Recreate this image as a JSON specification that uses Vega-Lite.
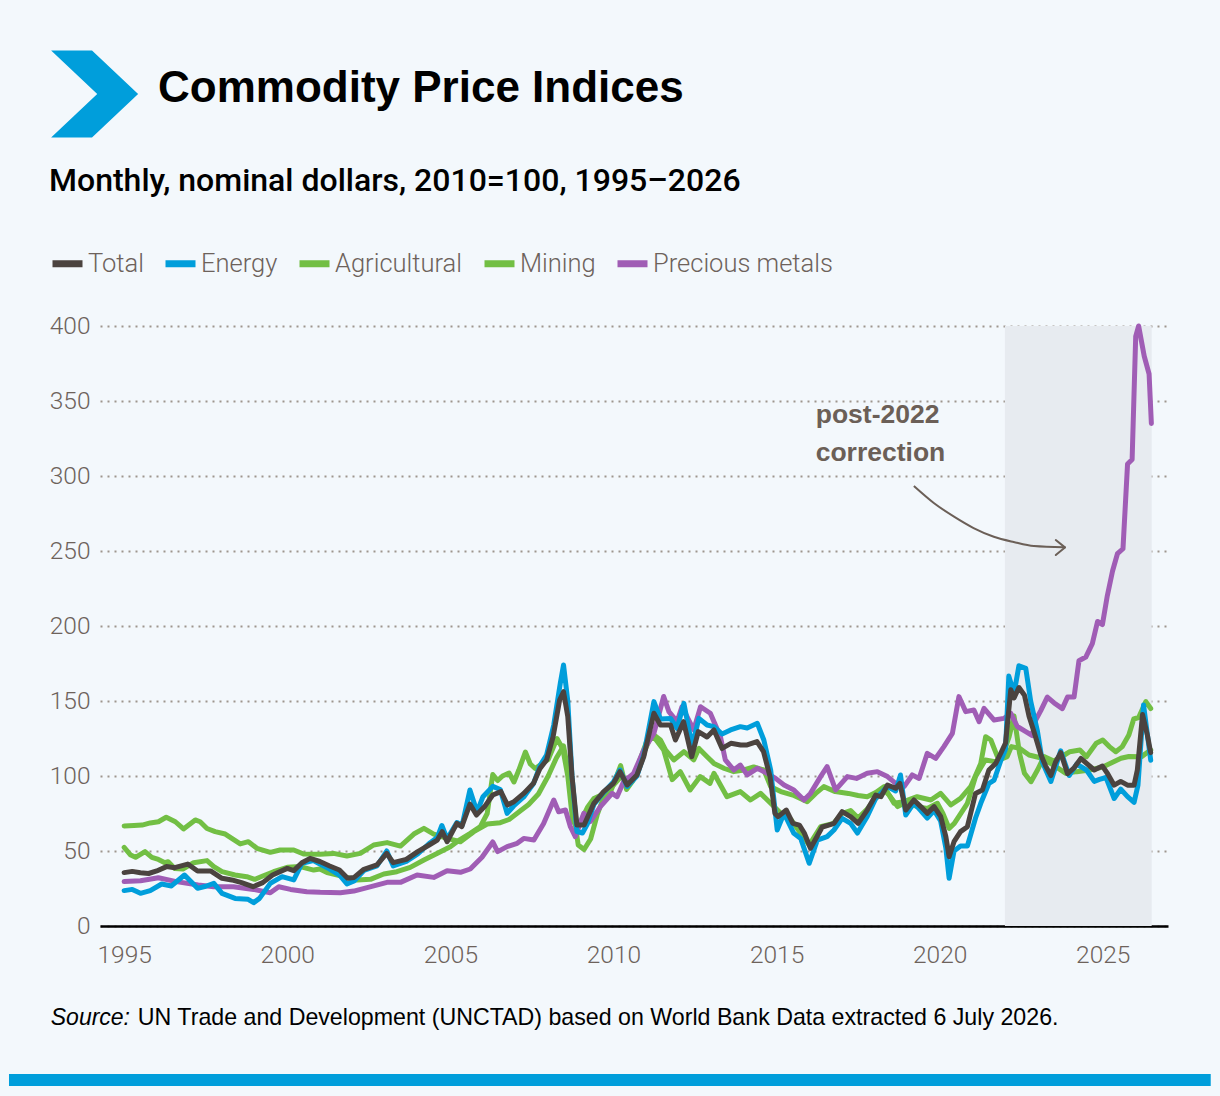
{
  "$schema": "https://vega.github.io/schema/vega-lite/v6.json",
  "width": 1068,
  "height": 600,
  "autosize": {"type": "none"},
  "padding": {"left": 100, "top": 326, "right": 52, "bottom": 170},
  "background": "#f3f8fc",
  "title": {
    "text": "Commodity Price Indices",
    "anchor": "start",
    "frame": "group",
    "dx": 58,
    "offset": -96,
    "baseline": "alphabetic",
    "font": "Liberation Sans, Arial, sans-serif",
    "fontSize": 44,
    "fontWeight": "bold",
    "color": "#000000"
  },
  "config": {
    "view": {"stroke": null},
    "axis": {
      "labelFont": "Roboto, sans-serif",
      "labelFontWeight": 300,
      "labelFontSize": 24.5,
      "labelColor": "#6d625b",
      "ticks": false,
      "title": null
    },
    "axisX": {
      "grid": false,
      "domain": true,
      "domainColor": "#000000",
      "domainWidth": 2.5,
      "labelPadding": 17
    },
    "axisY": {
      "grid": true,
      "gridColor": "#9e958d",
      "gridWidth": 2,
      "gridDash": [2, 5],
      "domain": false,
      "labelPadding": 10
    },
    "legend": {
      "orient": "none",
      "legendX": -51,
      "legendY": -160,
      "direction": "horizontal",
      "columns": 5,
      "columnPadding": 7,
      "labelOffset": 2,
      "labelFont": "Roboto, sans-serif",
      "labelFontWeight": 300,
      "labelFontSize": 25.5,
      "labelColor": "#6d625b",
      "labelLimit": 400,
      "symbolType": "stroke",
      "symbolStrokeWidth": 7,
      "symbolSize": 900,
      "titleFont": "Roboto, sans-serif",
      "titleFontSize": 32,
      "titleFontWeight": 500,
      "titleColor": "#000000",
      "titleLimit": 1000,
      "titlePadding": 47
    }
  },
  "layer": [
    {
      "data": {"values": [{}]},
      "mark": {"type": "rect", "color": "#e7ebf0"},
      "encoding": {
        "x": {"datum": 2022.0, "type": "quantitative", "scale": {"domain": [1994.26, 2027], "nice": false, "zero": false}},
        "x2": {"datum": 2026.5},
        "y": {"datum": 0, "type": "quantitative", "scale": {"domain": [0, 400], "nice": false}},
        "y2": {"datum": 400}
      }
    },
    {
      "data": {
        "values": [
          {"series": "Agricultural", "year": 1995.0, "value": 66.7},
          {"series": "Agricultural", "year": 1995.3, "value": 67},
          {"series": "Agricultural", "year": 1995.55, "value": 67.3},
          {"series": "Agricultural", "year": 1995.8, "value": 68.7},
          {"series": "Agricultural", "year": 1996.05, "value": 69.5},
          {"series": "Agricultural", "year": 1996.29, "value": 72.5},
          {"series": "Agricultural", "year": 1996.57, "value": 69.5},
          {"series": "Agricultural", "year": 1996.82, "value": 64.7},
          {"series": "Agricultural", "year": 1997.18, "value": 70.7},
          {"series": "Agricultural", "year": 1997.33, "value": 69.5},
          {"series": "Agricultural", "year": 1997.54, "value": 65},
          {"series": "Agricultural", "year": 1997.79, "value": 62.9},
          {"series": "Agricultural", "year": 1998.1, "value": 61.3},
          {"series": "Agricultural", "year": 1998.3, "value": 58.4},
          {"series": "Agricultural", "year": 1998.56, "value": 54.7},
          {"series": "Agricultural", "year": 1998.81, "value": 56.2},
          {"series": "Agricultural", "year": 1999.07, "value": 51.8},
          {"series": "Agricultural", "year": 1999.48, "value": 49.1},
          {"series": "Agricultural", "year": 1999.78, "value": 50.7},
          {"series": "Agricultural", "year": 2000.2, "value": 50.7},
          {"series": "Agricultural", "year": 2000.5, "value": 48},
          {"series": "Agricultural", "year": 2001.0, "value": 47.8},
          {"series": "Agricultural", "year": 2001.42, "value": 48.4},
          {"series": "Agricultural", "year": 2001.83, "value": 46.7},
          {"series": "Agricultural", "year": 2002.24, "value": 48.4},
          {"series": "Agricultural", "year": 2002.65, "value": 54},
          {"series": "Agricultural", "year": 2003.06, "value": 55.6},
          {"series": "Agricultural", "year": 2003.47, "value": 53.3},
          {"series": "Agricultural", "year": 2003.88, "value": 61.3},
          {"series": "Agricultural", "year": 2004.19, "value": 65.1},
          {"series": "Agricultural", "year": 2004.49, "value": 61.3},
          {"series": "Agricultural", "year": 2004.9, "value": 58.4},
          {"series": "Agricultural", "year": 2005.31, "value": 56.2},
          {"series": "Agricultural", "year": 2005.72, "value": 62.9},
          {"series": "Agricultural", "year": 2006.13, "value": 68},
          {"series": "Agricultural", "year": 2006.53, "value": 68.9},
          {"series": "Agricultural", "year": 2006.8, "value": 71},
          {"series": "Agricultural", "year": 2007.1, "value": 76},
          {"series": "Agricultural", "year": 2007.4, "value": 81},
          {"series": "Agricultural", "year": 2007.7, "value": 88},
          {"series": "Agricultural", "year": 2008.0, "value": 100},
          {"series": "Agricultural", "year": 2008.25, "value": 112},
          {"series": "Agricultural", "year": 2008.47, "value": 120},
          {"series": "Agricultural", "year": 2008.6, "value": 105},
          {"series": "Agricultural", "year": 2008.75, "value": 80},
          {"series": "Agricultural", "year": 2008.92, "value": 54},
          {"series": "Agricultural", "year": 2009.1, "value": 51},
          {"series": "Agricultural", "year": 2009.3, "value": 58},
          {"series": "Agricultural", "year": 2009.5, "value": 74},
          {"series": "Agricultural", "year": 2009.7, "value": 86},
          {"series": "Agricultural", "year": 2009.9, "value": 89},
          {"series": "Agricultural", "year": 2010.1, "value": 100},
          {"series": "Agricultural", "year": 2010.22, "value": 107},
          {"series": "Agricultural", "year": 2010.4, "value": 91},
          {"series": "Agricultural", "year": 2010.6, "value": 97},
          {"series": "Agricultural", "year": 2010.8, "value": 110},
          {"series": "Agricultural", "year": 2011.0, "value": 122},
          {"series": "Agricultural", "year": 2011.2, "value": 128},
          {"series": "Agricultural", "year": 2011.44, "value": 124},
          {"series": "Agricultural", "year": 2011.6, "value": 117.3},
          {"series": "Agricultural", "year": 2011.85, "value": 110.7},
          {"series": "Agricultural", "year": 2012.16, "value": 116.2},
          {"series": "Agricultural", "year": 2012.46, "value": 110.7},
          {"series": "Agricultural", "year": 2012.62, "value": 118.4},
          {"series": "Agricultural", "year": 2012.87, "value": 112.9},
          {"series": "Agricultural", "year": 2013.08, "value": 108.4},
          {"series": "Agricultural", "year": 2013.4, "value": 105},
          {"series": "Agricultural", "year": 2013.69, "value": 102.9},
          {"series": "Agricultural", "year": 2014.0, "value": 104},
          {"series": "Agricultural", "year": 2014.3, "value": 106},
          {"series": "Agricultural", "year": 2014.61, "value": 104},
          {"series": "Agricultural", "year": 2014.82, "value": 92.9},
          {"series": "Agricultural", "year": 2015.13, "value": 89.6},
          {"series": "Agricultural", "year": 2015.5, "value": 87.3},
          {"series": "Agricultural", "year": 2015.94, "value": 82.9},
          {"series": "Agricultural", "year": 2016.2, "value": 88.4},
          {"series": "Agricultural", "year": 2016.45, "value": 92.9},
          {"series": "Agricultural", "year": 2016.8, "value": 89.6},
          {"series": "Agricultural", "year": 2017.2, "value": 88.4},
          {"series": "Agricultural", "year": 2017.5, "value": 87},
          {"series": "Agricultural", "year": 2017.78, "value": 86.2},
          {"series": "Agricultural", "year": 2018.04, "value": 89},
          {"series": "Agricultural", "year": 2018.3, "value": 92.9},
          {"series": "Agricultural", "year": 2018.6, "value": 81.8},
          {"series": "Agricultural", "year": 2018.9, "value": 82.9},
          {"series": "Agricultural", "year": 2019.31, "value": 86.2},
          {"series": "Agricultural", "year": 2019.73, "value": 84},
          {"series": "Agricultural", "year": 2020.03, "value": 88.4},
          {"series": "Agricultural", "year": 2020.34, "value": 80.7},
          {"series": "Agricultural", "year": 2020.64, "value": 85.1},
          {"series": "Agricultural", "year": 2020.95, "value": 92.9},
          {"series": "Agricultural", "year": 2021.26, "value": 108.4},
          {"series": "Agricultural", "year": 2021.41, "value": 126.2},
          {"series": "Agricultural", "year": 2021.57, "value": 124},
          {"series": "Agricultural", "year": 2021.77, "value": 112.9},
          {"series": "Agricultural", "year": 2021.97, "value": 116.2},
          {"series": "Agricultural", "year": 2022.13, "value": 126.2},
          {"series": "Agricultural", "year": 2022.28, "value": 140},
          {"series": "Agricultural", "year": 2022.45, "value": 115},
          {"series": "Agricultural", "year": 2022.6, "value": 101.8},
          {"series": "Agricultural", "year": 2022.8, "value": 96.2},
          {"series": "Agricultural", "year": 2023.0, "value": 104},
          {"series": "Agricultural", "year": 2023.2, "value": 112.9},
          {"series": "Agricultural", "year": 2023.5, "value": 110},
          {"series": "Agricultural", "year": 2023.75, "value": 113},
          {"series": "Agricultural", "year": 2023.99, "value": 116.2},
          {"series": "Agricultural", "year": 2024.3, "value": 117.3},
          {"series": "Agricultural", "year": 2024.5, "value": 112.9},
          {"series": "Agricultural", "year": 2024.8, "value": 121.8},
          {"series": "Agricultural", "year": 2025.0, "value": 124},
          {"series": "Agricultural", "year": 2025.2, "value": 119.6},
          {"series": "Agricultural", "year": 2025.4, "value": 116.2},
          {"series": "Agricultural", "year": 2025.6, "value": 119.6},
          {"series": "Agricultural", "year": 2025.8, "value": 127.3},
          {"series": "Agricultural", "year": 2025.95, "value": 138},
          {"series": "Agricultural", "year": 2026.1, "value": 139},
          {"series": "Agricultural", "year": 2026.32, "value": 149.6},
          {"series": "Agricultural", "year": 2026.47, "value": 145},

          {"series": "Mining", "year": 1995.0, "value": 52.4},
          {"series": "Mining", "year": 1995.2, "value": 47.3},
          {"series": "Mining", "year": 1995.35, "value": 45.8},
          {"series": "Mining", "year": 1995.64, "value": 49.6},
          {"series": "Mining", "year": 1995.85, "value": 45.8},
          {"series": "Mining", "year": 1996.05, "value": 44.4},
          {"series": "Mining", "year": 1996.25, "value": 42.2},
          {"series": "Mining", "year": 1996.35, "value": 42.9},
          {"series": "Mining", "year": 1996.55, "value": 38.4},
          {"series": "Mining", "year": 1996.8, "value": 38},
          {"series": "Mining", "year": 1997.13, "value": 42.2},
          {"series": "Mining", "year": 1997.54, "value": 43.6},
          {"series": "Mining", "year": 1997.75, "value": 39.6},
          {"series": "Mining", "year": 1998.0, "value": 36.2},
          {"series": "Mining", "year": 1998.4, "value": 34},
          {"series": "Mining", "year": 1998.76, "value": 32.9},
          {"series": "Mining", "year": 1999.0, "value": 31.1},
          {"series": "Mining", "year": 1999.25, "value": 33.3},
          {"series": "Mining", "year": 1999.58, "value": 36.2},
          {"series": "Mining", "year": 2000.0, "value": 39.1},
          {"series": "Mining", "year": 2000.4, "value": 39.6},
          {"series": "Mining", "year": 2000.81, "value": 37.3},
          {"series": "Mining", "year": 2001.0, "value": 38},
          {"series": "Mining", "year": 2001.22, "value": 35.6},
          {"series": "Mining", "year": 2001.73, "value": 32.9},
          {"series": "Mining", "year": 2002.14, "value": 30.7},
          {"series": "Mining", "year": 2002.55, "value": 31.1},
          {"series": "Mining", "year": 2002.96, "value": 34.7},
          {"series": "Mining", "year": 2003.36, "value": 36.2},
          {"series": "Mining", "year": 2003.77, "value": 39.1},
          {"series": "Mining", "year": 2004.19, "value": 44},
          {"series": "Mining", "year": 2004.59, "value": 48.4},
          {"series": "Mining", "year": 2005.0, "value": 52.9},
          {"series": "Mining", "year": 2005.31, "value": 57.8},
          {"series": "Mining", "year": 2005.61, "value": 61.8},
          {"series": "Mining", "year": 2005.92, "value": 66.2},
          {"series": "Mining", "year": 2006.13, "value": 75},
          {"series": "Mining", "year": 2006.3, "value": 101},
          {"series": "Mining", "year": 2006.45, "value": 97},
          {"series": "Mining", "year": 2006.6, "value": 100},
          {"series": "Mining", "year": 2006.8, "value": 102},
          {"series": "Mining", "year": 2006.95, "value": 96},
          {"series": "Mining", "year": 2007.1, "value": 104},
          {"series": "Mining", "year": 2007.3, "value": 116},
          {"series": "Mining", "year": 2007.45, "value": 108},
          {"series": "Mining", "year": 2007.6, "value": 105},
          {"series": "Mining", "year": 2007.8, "value": 108},
          {"series": "Mining", "year": 2008.0, "value": 111},
          {"series": "Mining", "year": 2008.27, "value": 125},
          {"series": "Mining", "year": 2008.45, "value": 118},
          {"series": "Mining", "year": 2008.6, "value": 100},
          {"series": "Mining", "year": 2008.75, "value": 70},
          {"series": "Mining", "year": 2008.9, "value": 66},
          {"series": "Mining", "year": 2009.05, "value": 72},
          {"series": "Mining", "year": 2009.2, "value": 79},
          {"series": "Mining", "year": 2009.4, "value": 85},
          {"series": "Mining", "year": 2009.6, "value": 87},
          {"series": "Mining", "year": 2009.8, "value": 91},
          {"series": "Mining", "year": 2010.0, "value": 94},
          {"series": "Mining", "year": 2010.25, "value": 100},
          {"series": "Mining", "year": 2010.5, "value": 96},
          {"series": "Mining", "year": 2010.7, "value": 103},
          {"series": "Mining", "year": 2010.9, "value": 114},
          {"series": "Mining", "year": 2011.1, "value": 124},
          {"series": "Mining", "year": 2011.24, "value": 126},
          {"series": "Mining", "year": 2011.54, "value": 117.3},
          {"series": "Mining", "year": 2011.8, "value": 97.6},
          {"series": "Mining", "year": 2012.05, "value": 102.9},
          {"series": "Mining", "year": 2012.35, "value": 90.7},
          {"series": "Mining", "year": 2012.66, "value": 99.6},
          {"series": "Mining", "year": 2012.96, "value": 95.1},
          {"series": "Mining", "year": 2013.08, "value": 101.8},
          {"series": "Mining", "year": 2013.48, "value": 86.2},
          {"series": "Mining", "year": 2013.89, "value": 89.6},
          {"series": "Mining", "year": 2014.2, "value": 84},
          {"series": "Mining", "year": 2014.51, "value": 88.4},
          {"series": "Mining", "year": 2014.82, "value": 81.8},
          {"series": "Mining", "year": 2015.13, "value": 75.1},
          {"series": "Mining", "year": 2015.45, "value": 70.7},
          {"series": "Mining", "year": 2015.74, "value": 61.8},
          {"series": "Mining", "year": 2016.0, "value": 54},
          {"series": "Mining", "year": 2016.35, "value": 66.2},
          {"series": "Mining", "year": 2016.75, "value": 68.4},
          {"series": "Mining", "year": 2017.0, "value": 75},
          {"series": "Mining", "year": 2017.27, "value": 77},
          {"series": "Mining", "year": 2017.5, "value": 72},
          {"series": "Mining", "year": 2017.78, "value": 78},
          {"series": "Mining", "year": 2017.99, "value": 84},
          {"series": "Mining", "year": 2018.3, "value": 90.7},
          {"series": "Mining", "year": 2018.45, "value": 87.3},
          {"series": "Mining", "year": 2018.71, "value": 79.6},
          {"series": "Mining", "year": 2019.0, "value": 82.9},
          {"series": "Mining", "year": 2019.3, "value": 79.6},
          {"series": "Mining", "year": 2019.62, "value": 78.4},
          {"series": "Mining", "year": 2019.93, "value": 81.8},
          {"series": "Mining", "year": 2020.1, "value": 75.1},
          {"series": "Mining", "year": 2020.29, "value": 65.1},
          {"series": "Mining", "year": 2020.45, "value": 68.4},
          {"series": "Mining", "year": 2020.85, "value": 81.8},
          {"series": "Mining", "year": 2021.1, "value": 99.6},
          {"series": "Mining", "year": 2021.4, "value": 110.7},
          {"series": "Mining", "year": 2021.7, "value": 109.6},
          {"series": "Mining", "year": 2022.07, "value": 112.9},
          {"series": "Mining", "year": 2022.2, "value": 119.6},
          {"series": "Mining", "year": 2022.45, "value": 118.4},
          {"series": "Mining", "year": 2022.74, "value": 114},
          {"series": "Mining", "year": 2023.15, "value": 111.8},
          {"series": "Mining", "year": 2023.56, "value": 106.2},
          {"series": "Mining", "year": 2023.87, "value": 101.8},
          {"series": "Mining", "year": 2024.2, "value": 102.9},
          {"series": "Mining", "year": 2024.6, "value": 104},
          {"series": "Mining", "year": 2025.0, "value": 106},
          {"series": "Mining", "year": 2025.35, "value": 109.6},
          {"series": "Mining", "year": 2025.56, "value": 111.8},
          {"series": "Mining", "year": 2025.8, "value": 113},
          {"series": "Mining", "year": 2026.19, "value": 112.9},
          {"series": "Mining", "year": 2026.47, "value": 117.3},

          {"series": "Precious metals", "year": 1995.0, "value": 29.6},
          {"series": "Precious metals", "year": 1995.5, "value": 30.2},
          {"series": "Precious metals", "year": 1996.05, "value": 32.2},
          {"series": "Precious metals", "year": 1996.6, "value": 29.6},
          {"series": "Precious metals", "year": 1997.27, "value": 27.3},
          {"series": "Precious metals", "year": 1997.75, "value": 26.2},
          {"series": "Precious metals", "year": 1998.35, "value": 26.2},
          {"series": "Precious metals", "year": 1998.97, "value": 24.4},
          {"series": "Precious metals", "year": 1999.48, "value": 22.2},
          {"series": "Precious metals", "year": 1999.74, "value": 26.2},
          {"series": "Precious metals", "year": 2000.1, "value": 24.4},
          {"series": "Precious metals", "year": 2000.6, "value": 22.9},
          {"series": "Precious metals", "year": 2001.01, "value": 22.5},
          {"series": "Precious metals", "year": 2001.63, "value": 22.2},
          {"series": "Precious metals", "year": 2002.04, "value": 23.3},
          {"series": "Precious metals", "year": 2002.45, "value": 25.6},
          {"series": "Precious metals", "year": 2003.06, "value": 29.1},
          {"series": "Precious metals", "year": 2003.47, "value": 29.1},
          {"series": "Precious metals", "year": 2003.98, "value": 34},
          {"series": "Precious metals", "year": 2004.49, "value": 32.4},
          {"series": "Precious metals", "year": 2004.9, "value": 36.9},
          {"series": "Precious metals", "year": 2005.31, "value": 35.8},
          {"series": "Precious metals", "year": 2005.61, "value": 38},
          {"series": "Precious metals", "year": 2005.97, "value": 45.8},
          {"series": "Precious metals", "year": 2006.3, "value": 56},
          {"series": "Precious metals", "year": 2006.45, "value": 49.6},
          {"series": "Precious metals", "year": 2006.74, "value": 52.9},
          {"series": "Precious metals", "year": 2007.05, "value": 55.1},
          {"series": "Precious metals", "year": 2007.25, "value": 58.4},
          {"series": "Precious metals", "year": 2007.56, "value": 57.3},
          {"series": "Precious metals", "year": 2007.86, "value": 68.4},
          {"series": "Precious metals", "year": 2008.17, "value": 84},
          {"series": "Precious metals", "year": 2008.32, "value": 76.2},
          {"series": "Precious metals", "year": 2008.53, "value": 77.3},
          {"series": "Precious metals", "year": 2008.68, "value": 66.2},
          {"series": "Precious metals", "year": 2008.83, "value": 59.6},
          {"series": "Precious metals", "year": 2009.09, "value": 75.1},
          {"series": "Precious metals", "year": 2009.29, "value": 69.6},
          {"series": "Precious metals", "year": 2009.6, "value": 79.6},
          {"series": "Precious metals", "year": 2009.96, "value": 88.4},
          {"series": "Precious metals", "year": 2010.11, "value": 86.2},
          {"series": "Precious metals", "year": 2010.31, "value": 96.2},
          {"series": "Precious metals", "year": 2010.62, "value": 101.8},
          {"series": "Precious metals", "year": 2010.93, "value": 117.3},
          {"series": "Precious metals", "year": 2011.24, "value": 128.4},
          {"series": "Precious metals", "year": 2011.54, "value": 153},
          {"series": "Precious metals", "year": 2011.7, "value": 142.9},
          {"series": "Precious metals", "year": 2011.95, "value": 136.2},
          {"series": "Precious metals", "year": 2012.1, "value": 146.2},
          {"series": "Precious metals", "year": 2012.46, "value": 130.7},
          {"series": "Precious metals", "year": 2012.67, "value": 146.2},
          {"series": "Precious metals", "year": 2012.97, "value": 141.8},
          {"series": "Precious metals", "year": 2013.28, "value": 126.2},
          {"series": "Precious metals", "year": 2013.43, "value": 110.7},
          {"series": "Precious metals", "year": 2013.69, "value": 104},
          {"series": "Precious metals", "year": 2013.89, "value": 107.3},
          {"series": "Precious metals", "year": 2014.1, "value": 100.7},
          {"series": "Precious metals", "year": 2014.41, "value": 105.1},
          {"series": "Precious metals", "year": 2014.71, "value": 101.8},
          {"series": "Precious metals", "year": 2014.97, "value": 98.4},
          {"series": "Precious metals", "year": 2015.23, "value": 94},
          {"series": "Precious metals", "year": 2015.53, "value": 90.7},
          {"series": "Precious metals", "year": 2015.84, "value": 84},
          {"series": "Precious metals", "year": 2016.04, "value": 88.4},
          {"series": "Precious metals", "year": 2016.35, "value": 99.6},
          {"series": "Precious metals", "year": 2016.55, "value": 106.2},
          {"series": "Precious metals", "year": 2016.81, "value": 90.7},
          {"series": "Precious metals", "year": 2017.17, "value": 99.6},
          {"series": "Precious metals", "year": 2017.45, "value": 98.4},
          {"series": "Precious metals", "year": 2017.78, "value": 101.8},
          {"series": "Precious metals", "year": 2018.09, "value": 102.9},
          {"series": "Precious metals", "year": 2018.4, "value": 99.6},
          {"series": "Precious metals", "year": 2018.65, "value": 95.1},
          {"series": "Precious metals", "year": 2018.91, "value": 92.9},
          {"series": "Precious metals", "year": 2019.16, "value": 100.7},
          {"series": "Precious metals", "year": 2019.37, "value": 98.4},
          {"series": "Precious metals", "year": 2019.62, "value": 115.1},
          {"series": "Precious metals", "year": 2019.88, "value": 111.8},
          {"series": "Precious metals", "year": 2020.13, "value": 119.6},
          {"series": "Precious metals", "year": 2020.39, "value": 128.4},
          {"series": "Precious metals", "year": 2020.59, "value": 152.9},
          {"series": "Precious metals", "year": 2020.8, "value": 142.9},
          {"series": "Precious metals", "year": 2021.05, "value": 144},
          {"series": "Precious metals", "year": 2021.21, "value": 136.2},
          {"series": "Precious metals", "year": 2021.36, "value": 145.1},
          {"series": "Precious metals", "year": 2021.67, "value": 137.3},
          {"series": "Precious metals", "year": 2021.97, "value": 138.4},
          {"series": "Precious metals", "year": 2022.18, "value": 141.8},
          {"series": "Precious metals", "year": 2022.38, "value": 133},
          {"series": "Precious metals", "year": 2022.64, "value": 129.6},
          {"series": "Precious metals", "year": 2022.84, "value": 127},
          {"series": "Precious metals", "year": 2022.94, "value": 137.2},
          {"series": "Precious metals", "year": 2023.1, "value": 143.6},
          {"series": "Precious metals", "year": 2023.3, "value": 152.6},
          {"series": "Precious metals", "year": 2023.51, "value": 148.7},
          {"series": "Precious metals", "year": 2023.76, "value": 144.9},
          {"series": "Precious metals", "year": 2023.92, "value": 152.6},
          {"series": "Precious metals", "year": 2024.12, "value": 152.6},
          {"series": "Precious metals", "year": 2024.27, "value": 176.8},
          {"series": "Precious metals", "year": 2024.48, "value": 179.3},
          {"series": "Precious metals", "year": 2024.68, "value": 188.3},
          {"series": "Precious metals", "year": 2024.84, "value": 203},
          {"series": "Precious metals", "year": 2024.99, "value": 201},
          {"series": "Precious metals", "year": 2025.14, "value": 220.2},
          {"series": "Precious metals", "year": 2025.3, "value": 236.7},
          {"series": "Precious metals", "year": 2025.45, "value": 248.2},
          {"series": "Precious metals", "year": 2025.62, "value": 251.5},
          {"series": "Precious metals", "year": 2025.76, "value": 308},
          {"series": "Precious metals", "year": 2025.9, "value": 311},
          {"series": "Precious metals", "year": 2026.01, "value": 393},
          {"series": "Precious metals", "year": 2026.1, "value": 400},
          {"series": "Precious metals", "year": 2026.27, "value": 380},
          {"series": "Precious metals", "year": 2026.42, "value": 368},
          {"series": "Precious metals", "year": 2026.49, "value": 335},

          {"series": "Energy", "year": 1995.0, "value": 23.6},
          {"series": "Energy", "year": 1995.25, "value": 24.4},
          {"series": "Energy", "year": 1995.5, "value": 21.8},
          {"series": "Energy", "year": 1995.8, "value": 23.6},
          {"series": "Energy", "year": 1996.15, "value": 28},
          {"series": "Energy", "year": 1996.45, "value": 26.7},
          {"series": "Energy", "year": 1996.85, "value": 34},
          {"series": "Energy", "year": 1997.25, "value": 25.1},
          {"series": "Energy", "year": 1997.5, "value": 26.5},
          {"series": "Energy", "year": 1997.75, "value": 28.4},
          {"series": "Energy", "year": 1998.0, "value": 21.8},
          {"series": "Energy", "year": 1998.4, "value": 18.4},
          {"series": "Energy", "year": 1998.8, "value": 17.8},
          {"series": "Energy", "year": 1998.97, "value": 15.6},
          {"series": "Energy", "year": 1999.15, "value": 18.4},
          {"series": "Energy", "year": 1999.48, "value": 28.4},
          {"series": "Energy", "year": 1999.84, "value": 32.9},
          {"series": "Energy", "year": 2000.2, "value": 30.7},
          {"series": "Energy", "year": 2000.45, "value": 41.8},
          {"series": "Energy", "year": 2000.8, "value": 43.6},
          {"series": "Energy", "year": 2001.0, "value": 41.3},
          {"series": "Energy", "year": 2001.3, "value": 38},
          {"series": "Energy", "year": 2001.6, "value": 34},
          {"series": "Energy", "year": 2001.83, "value": 28},
          {"series": "Energy", "year": 2002.05, "value": 30},
          {"series": "Energy", "year": 2002.35, "value": 37},
          {"series": "Energy", "year": 2002.75, "value": 40},
          {"series": "Energy", "year": 2003.05, "value": 50},
          {"series": "Energy", "year": 2003.25, "value": 40},
          {"series": "Energy", "year": 2003.65, "value": 43},
          {"series": "Energy", "year": 2004.0, "value": 48},
          {"series": "Energy", "year": 2004.35, "value": 55},
          {"series": "Energy", "year": 2004.6, "value": 59},
          {"series": "Energy", "year": 2004.74, "value": 67},
          {"series": "Energy", "year": 2004.9, "value": 58},
          {"series": "Energy", "year": 2005.2, "value": 69},
          {"series": "Energy", "year": 2005.36, "value": 67},
          {"series": "Energy", "year": 2005.6, "value": 90.7},
          {"series": "Energy", "year": 2005.82, "value": 76},
          {"series": "Energy", "year": 2006.0, "value": 86.2},
          {"series": "Energy", "year": 2006.3, "value": 93.1},
          {"series": "Energy", "year": 2006.53, "value": 91},
          {"series": "Energy", "year": 2006.74, "value": 75.1},
          {"series": "Energy", "year": 2006.94, "value": 80},
          {"series": "Energy", "year": 2007.25, "value": 86},
          {"series": "Energy", "year": 2007.55, "value": 95},
          {"series": "Energy", "year": 2007.75, "value": 107},
          {"series": "Energy", "year": 2007.95, "value": 114},
          {"series": "Energy", "year": 2008.17, "value": 134},
          {"series": "Energy", "year": 2008.37, "value": 161.8},
          {"series": "Energy", "year": 2008.47, "value": 174},
          {"series": "Energy", "year": 2008.6, "value": 150},
          {"series": "Energy", "year": 2008.73, "value": 100},
          {"series": "Energy", "year": 2008.88, "value": 63},
          {"series": "Energy", "year": 2009.05, "value": 62},
          {"series": "Energy", "year": 2009.2, "value": 68},
          {"series": "Energy", "year": 2009.4, "value": 81},
          {"series": "Energy", "year": 2009.7, "value": 89},
          {"series": "Energy", "year": 2010.0, "value": 96},
          {"series": "Energy", "year": 2010.2, "value": 104},
          {"series": "Energy", "year": 2010.42, "value": 93},
          {"series": "Energy", "year": 2010.72, "value": 100},
          {"series": "Energy", "year": 2010.93, "value": 114},
          {"series": "Energy", "year": 2011.24, "value": 149.6},
          {"series": "Energy", "year": 2011.44, "value": 138},
          {"series": "Energy", "year": 2011.75, "value": 138.4},
          {"series": "Energy", "year": 2011.95, "value": 131.8},
          {"series": "Energy", "year": 2012.16, "value": 148.4},
          {"series": "Energy", "year": 2012.41, "value": 120},
          {"series": "Energy", "year": 2012.62, "value": 138.4},
          {"series": "Energy", "year": 2012.87, "value": 134},
          {"series": "Energy", "year": 2013.08, "value": 132.9},
          {"series": "Energy", "year": 2013.33, "value": 128},
          {"series": "Energy", "year": 2013.59, "value": 130.7},
          {"series": "Energy", "year": 2013.89, "value": 132.9},
          {"series": "Energy", "year": 2014.1, "value": 132},
          {"series": "Energy", "year": 2014.41, "value": 135.1},
          {"series": "Energy", "year": 2014.61, "value": 124},
          {"series": "Energy", "year": 2014.82, "value": 104},
          {"series": "Energy", "year": 2015.02, "value": 64},
          {"series": "Energy", "year": 2015.23, "value": 75.1},
          {"series": "Energy", "year": 2015.53, "value": 61.8},
          {"series": "Energy", "year": 2015.74, "value": 58.4},
          {"series": "Energy", "year": 2016.0, "value": 41.8},
          {"series": "Energy", "year": 2016.25, "value": 57.3},
          {"series": "Energy", "year": 2016.55, "value": 59.6},
          {"series": "Energy", "year": 2016.76, "value": 64},
          {"series": "Energy", "year": 2017.01, "value": 71.8},
          {"series": "Energy", "year": 2017.27, "value": 68.4},
          {"series": "Energy", "year": 2017.48, "value": 62},
          {"series": "Energy", "year": 2017.78, "value": 73},
          {"series": "Energy", "year": 2018.04, "value": 85},
          {"series": "Energy", "year": 2018.4, "value": 93},
          {"series": "Energy", "year": 2018.65, "value": 90},
          {"series": "Energy", "year": 2018.8, "value": 100.7},
          {"series": "Energy", "year": 2018.96, "value": 74},
          {"series": "Energy", "year": 2019.21, "value": 82},
          {"series": "Energy", "year": 2019.42, "value": 77},
          {"series": "Energy", "year": 2019.62, "value": 72},
          {"series": "Energy", "year": 2019.83, "value": 77},
          {"series": "Energy", "year": 2020.03, "value": 70},
          {"series": "Energy", "year": 2020.19, "value": 52},
          {"series": "Energy", "year": 2020.29, "value": 31.8},
          {"series": "Energy", "year": 2020.44, "value": 50},
          {"series": "Energy", "year": 2020.64, "value": 53.3},
          {"series": "Energy", "year": 2020.85, "value": 53.3},
          {"series": "Energy", "year": 2021.1, "value": 72},
          {"series": "Energy", "year": 2021.26, "value": 81.8},
          {"series": "Energy", "year": 2021.51, "value": 95},
          {"series": "Energy", "year": 2021.67, "value": 97.3},
          {"series": "Energy", "year": 2021.87, "value": 110},
          {"series": "Energy", "year": 2022.02, "value": 118},
          {"series": "Energy", "year": 2022.12, "value": 166.6},
          {"series": "Energy", "year": 2022.28, "value": 155},
          {"series": "Energy", "year": 2022.43, "value": 173.5},
          {"series": "Energy", "year": 2022.64, "value": 171.7},
          {"series": "Energy", "year": 2022.79, "value": 150},
          {"series": "Energy", "year": 2023.0, "value": 129.6},
          {"series": "Energy", "year": 2023.15, "value": 109.2},
          {"series": "Energy", "year": 2023.41, "value": 96.4},
          {"series": "Energy", "year": 2023.71, "value": 116.8},
          {"series": "Energy", "year": 2023.97, "value": 100.3},
          {"series": "Energy", "year": 2024.2, "value": 107.9},
          {"series": "Energy", "year": 2024.5, "value": 104},
          {"series": "Energy", "year": 2024.74, "value": 96.4},
          {"series": "Energy", "year": 2024.9, "value": 97.7},
          {"series": "Energy", "year": 2025.1, "value": 99},
          {"series": "Energy", "year": 2025.35, "value": 85},
          {"series": "Energy", "year": 2025.55, "value": 91.3},
          {"series": "Energy", "year": 2025.76, "value": 86.2},
          {"series": "Energy", "year": 2025.96, "value": 82.4},
          {"series": "Energy", "year": 2026.08, "value": 93.9},
          {"series": "Energy", "year": 2026.25, "value": 147.4},
          {"series": "Energy", "year": 2026.47, "value": 110.5},

          {"series": "Total", "year": 1995.0, "value": 35.6},
          {"series": "Total", "year": 1995.25, "value": 36.4},
          {"series": "Total", "year": 1995.5, "value": 35.5},
          {"series": "Total", "year": 1995.75, "value": 35},
          {"series": "Total", "year": 1996.0, "value": 36.7},
          {"series": "Total", "year": 1996.3, "value": 39.6},
          {"series": "Total", "year": 1996.55, "value": 38.9},
          {"series": "Total", "year": 1996.95, "value": 41.3},
          {"series": "Total", "year": 1997.25, "value": 36.7},
          {"series": "Total", "year": 1997.65, "value": 36.7},
          {"series": "Total", "year": 1998.0, "value": 31.8},
          {"series": "Total", "year": 1998.3, "value": 30.7},
          {"series": "Total", "year": 1998.6, "value": 28.9},
          {"series": "Total", "year": 1998.95, "value": 26.2},
          {"series": "Total", "year": 1999.25, "value": 28.9},
          {"series": "Total", "year": 1999.55, "value": 34},
          {"series": "Total", "year": 2000.0, "value": 38.4},
          {"series": "Total", "year": 2000.2, "value": 36.9},
          {"series": "Total", "year": 2000.45, "value": 42.2},
          {"series": "Total", "year": 2000.7, "value": 45.1},
          {"series": "Total", "year": 2001.0, "value": 43},
          {"series": "Total", "year": 2001.3, "value": 40},
          {"series": "Total", "year": 2001.6, "value": 37.3},
          {"series": "Total", "year": 2001.85, "value": 31.8},
          {"series": "Total", "year": 2002.05, "value": 32.4},
          {"series": "Total", "year": 2002.35, "value": 37.8},
          {"series": "Total", "year": 2002.75, "value": 40.7},
          {"series": "Total", "year": 2003.05, "value": 48.4},
          {"series": "Total", "year": 2003.25, "value": 42.2},
          {"series": "Total", "year": 2003.65, "value": 44.4},
          {"series": "Total", "year": 2004.0, "value": 49.6},
          {"series": "Total", "year": 2004.35, "value": 54},
          {"series": "Total", "year": 2004.6, "value": 57.3},
          {"series": "Total", "year": 2004.75, "value": 62.9},
          {"series": "Total", "year": 2004.9, "value": 56.2},
          {"series": "Total", "year": 2005.2, "value": 68.4},
          {"series": "Total", "year": 2005.35, "value": 66.2},
          {"series": "Total", "year": 2005.6, "value": 81.3},
          {"series": "Total", "year": 2005.8, "value": 74},
          {"series": "Total", "year": 2006.05, "value": 79.6},
          {"series": "Total", "year": 2006.3, "value": 87.3},
          {"series": "Total", "year": 2006.55, "value": 89.6},
          {"series": "Total", "year": 2006.75, "value": 80.7},
          {"series": "Total", "year": 2006.95, "value": 82.9},
          {"series": "Total", "year": 2007.25, "value": 88.4},
          {"series": "Total", "year": 2007.55, "value": 95.1},
          {"series": "Total", "year": 2007.75, "value": 105.1},
          {"series": "Total", "year": 2007.95, "value": 110.7},
          {"series": "Total", "year": 2008.15, "value": 126.2},
          {"series": "Total", "year": 2008.35, "value": 150.7},
          {"series": "Total", "year": 2008.47, "value": 156.2},
          {"series": "Total", "year": 2008.6, "value": 139.6},
          {"series": "Total", "year": 2008.73, "value": 99.6},
          {"series": "Total", "year": 2008.88, "value": 67.3},
          {"series": "Total", "year": 2009.1, "value": 67.3},
          {"series": "Total", "year": 2009.4, "value": 81.8},
          {"series": "Total", "year": 2009.7, "value": 89.6},
          {"series": "Total", "year": 2010.0, "value": 95.1},
          {"series": "Total", "year": 2010.2, "value": 102.9},
          {"series": "Total", "year": 2010.42, "value": 94},
          {"series": "Total", "year": 2010.72, "value": 100.7},
          {"series": "Total", "year": 2010.93, "value": 112.9},
          {"series": "Total", "year": 2011.24, "value": 141.8},
          {"series": "Total", "year": 2011.44, "value": 134},
          {"series": "Total", "year": 2011.75, "value": 134},
          {"series": "Total", "year": 2011.9, "value": 124},
          {"series": "Total", "year": 2012.15, "value": 136.2},
          {"series": "Total", "year": 2012.4, "value": 112.9},
          {"series": "Total", "year": 2012.6, "value": 129.6},
          {"series": "Total", "year": 2012.87, "value": 126},
          {"series": "Total", "year": 2013.08, "value": 130.7},
          {"series": "Total", "year": 2013.33, "value": 118.4},
          {"series": "Total", "year": 2013.6, "value": 121.8},
          {"series": "Total", "year": 2013.9, "value": 120.7},
          {"series": "Total", "year": 2014.1, "value": 120.7},
          {"series": "Total", "year": 2014.4, "value": 122.9},
          {"series": "Total", "year": 2014.6, "value": 116.2},
          {"series": "Total", "year": 2014.8, "value": 99.6},
          {"series": "Total", "year": 2014.95, "value": 75},
          {"series": "Total", "year": 2015.05, "value": 72.9},
          {"series": "Total", "year": 2015.3, "value": 77.3},
          {"series": "Total", "year": 2015.5, "value": 68.4},
          {"series": "Total", "year": 2015.7, "value": 67.3},
          {"series": "Total", "year": 2015.85, "value": 62},
          {"series": "Total", "year": 2016.04, "value": 51.8},
          {"series": "Total", "year": 2016.25, "value": 60},
          {"series": "Total", "year": 2016.4, "value": 66},
          {"series": "Total", "year": 2016.6, "value": 67.3},
          {"series": "Total", "year": 2016.76, "value": 68.4},
          {"series": "Total", "year": 2017.01, "value": 76.2},
          {"series": "Total", "year": 2017.27, "value": 72.9},
          {"series": "Total", "year": 2017.5, "value": 68.4},
          {"series": "Total", "year": 2017.78, "value": 77.3},
          {"series": "Total", "year": 2018.04, "value": 87.3},
          {"series": "Total", "year": 2018.2, "value": 86.2},
          {"series": "Total", "year": 2018.4, "value": 94},
          {"series": "Total", "year": 2018.65, "value": 91.8},
          {"series": "Total", "year": 2018.78, "value": 95.1},
          {"series": "Total", "year": 2018.96, "value": 77.3},
          {"series": "Total", "year": 2019.21, "value": 84},
          {"series": "Total", "year": 2019.42, "value": 79.6},
          {"series": "Total", "year": 2019.62, "value": 75.1},
          {"series": "Total", "year": 2019.83, "value": 79.6},
          {"series": "Total", "year": 2020.03, "value": 73.1},
          {"series": "Total", "year": 2020.19, "value": 59.6},
          {"series": "Total", "year": 2020.29, "value": 46.2},
          {"series": "Total", "year": 2020.44, "value": 56.2},
          {"series": "Total", "year": 2020.64, "value": 62.9},
          {"series": "Total", "year": 2020.85, "value": 66.2},
          {"series": "Total", "year": 2021.1, "value": 88.4},
          {"series": "Total", "year": 2021.31, "value": 90.7},
          {"series": "Total", "year": 2021.51, "value": 104},
          {"series": "Total", "year": 2021.72, "value": 108.4},
          {"series": "Total", "year": 2021.87, "value": 115},
          {"series": "Total", "year": 2022.02, "value": 122},
          {"series": "Total", "year": 2022.18, "value": 157.5},
          {"series": "Total", "year": 2022.28, "value": 152},
          {"series": "Total", "year": 2022.43, "value": 159},
          {"series": "Total", "year": 2022.6, "value": 153.8},
          {"series": "Total", "year": 2022.74, "value": 139.8},
          {"series": "Total", "year": 2022.89, "value": 129.6},
          {"series": "Total", "year": 2023.1, "value": 114.3},
          {"series": "Total", "year": 2023.25, "value": 106.6},
          {"series": "Total", "year": 2023.41, "value": 100.3},
          {"series": "Total", "year": 2023.55, "value": 109.2},
          {"series": "Total", "year": 2023.71, "value": 115.6},
          {"series": "Total", "year": 2023.92, "value": 101.5},
          {"series": "Total", "year": 2024.12, "value": 105.4},
          {"series": "Total", "year": 2024.33, "value": 111.7},
          {"series": "Total", "year": 2024.53, "value": 107.9},
          {"series": "Total", "year": 2024.74, "value": 104},
          {"series": "Total", "year": 2024.99, "value": 106.6},
          {"series": "Total", "year": 2025.15, "value": 101.5},
          {"series": "Total", "year": 2025.35, "value": 93.9},
          {"series": "Total", "year": 2025.55, "value": 96.4},
          {"series": "Total", "year": 2025.76, "value": 93.9},
          {"series": "Total", "year": 2025.96, "value": 93.9},
          {"series": "Total", "year": 2026.06, "value": 104},
          {"series": "Total", "year": 2026.22, "value": 141},
          {"series": "Total", "year": 2026.37, "value": 127},
          {"series": "Total", "year": 2026.47, "value": 115.6}
        ]
      },
      "mark": {"type": "line", "strokeWidth": 5, "strokeJoin": "round", "strokeCap": "round"},
      "encoding": {
        "x": {
          "field": "year",
          "type": "quantitative",
          "scale": {"domain": [1994.26, 2027], "nice": false, "zero": false},
          "axis": {"title": null, "values": [1995, 2000, 2005, 2010, 2015, 2020, 2025], "format": "d"}
        },
        "y": {
          "field": "value",
          "type": "quantitative",
          "scale": {"domain": [0, 400], "nice": false},
          "axis": {"title": null, "values": [0, 50, 100, 150, 200, 250, 300, 350, 400]}
        },
        "color": {
          "field": "series",
          "type": "nominal",
          "scale": {
            "domain": ["Total", "Energy", "Agricultural", "Mining", "Precious metals"],
            "range": ["#4b433f", "#009edb", "#72bf44", "#72bf44", "#a05db5"]
          },
          "legend": {"title": "Monthly, nominal dollars, 2010=100, 1995\u20132026"}
        }
      }
    },
    {
      "data": {
        "values": [
          {"year": 2019.21, "value": 293.3},
          {"year": 2019.82, "value": 282},
          {"year": 2020.44, "value": 272.9},
          {"year": 2021.04, "value": 265.3},
          {"year": 2021.66, "value": 259.5},
          {"year": 2022.27, "value": 256},
          {"year": 2022.89, "value": 253.3},
          {"year": 2023.81, "value": 252.5}
        ]
      },
      "mark": {"type": "line", "color": "#6b5f57", "strokeWidth": 2, "interpolate": "monotone"},
      "encoding": {
        "x": {"field": "year", "type": "quantitative", "scale": {"domain": [1994.26, 2027], "nice": false, "zero": false}, "axis": {"title": null}},
        "y": {"field": "value", "type": "quantitative", "scale": {"domain": [0, 400], "nice": false}, "axis": {"title": null}}
      }
    },
    {
      "data": {
        "values": [
          {"year": 2023.56, "value": 257.3, "tipYear": 2023.84, "tipValue": 252.4},
          {"year": 2023.56, "value": 247.3, "tipYear": 2023.84, "tipValue": 252.4}
        ]
      },
      "mark": {"type": "rule", "color": "#6b5f57", "strokeWidth": 2, "strokeCap": "round"},
      "encoding": {
        "x": {"field": "year", "type": "quantitative", "scale": {"domain": [1994.26, 2027], "nice": false, "zero": false}, "axis": {"title": null}},
        "y": {"field": "value", "type": "quantitative", "scale": {"domain": [0, 400], "nice": false}, "axis": {"title": null}},
        "x2": {"field": "tipYear"},
        "y2": {"field": "tipValue"}
      }
    },
    {
      "data": {"values": [{}]},
      "mark": {
        "type": "text",
        "text": "post-2022\ncorrection",
        "lineBreak": "\n",
        "lineHeight": 38,
        "align": "left",
        "baseline": "alphabetic",
        "font": "Liberation Sans, Arial, sans-serif",
        "fontSize": 26.5,
        "fontWeight": "bold",
        "color": "#6b5f57"
      },
      "encoding": {
        "x": {"datum": 2016.2, "type": "quantitative", "scale": {"domain": [1994.26, 2027], "nice": false, "zero": false}},
        "y": {"datum": 335.3, "type": "quantitative", "scale": {"domain": [0, 400], "nice": false}}
      }
    },
    {
      "data": {"values": [{}]},
      "mark": {
        "type": "point",
        "shape": "M-1,-1L-0.06,-1L1,0L-0.06,1L-1,1L0.06,0Z",
        "size": 7569,
        "filled": true,
        "opacity": 1,
        "color": "#009edb"
      },
      "encoding": {
        "x": {"datum": 1994.095, "type": "quantitative", "scale": {"domain": [1994.26, 2027], "nice": false, "zero": false}},
        "y": {"datum": 554.7, "type": "quantitative", "scale": {"domain": [0, 400], "nice": false}}
      }
    },
    {
      "data": {"values": [{}]},
      "mark": {
        "type": "text",
        "text": "Source:",
        "align": "left",
        "baseline": "alphabetic",
        "font": "Liberation Sans, Arial, sans-serif",
        "fontSize": 23,
        "fontStyle": "italic",
        "color": "#000000"
      },
      "encoding": {
        "x": {"datum": 1992.75, "type": "quantitative", "scale": {"domain": [1994.26, 2027], "nice": false, "zero": false}},
        "y": {"datum": -66, "type": "quantitative", "scale": {"domain": [0, 400], "nice": false}}
      }
    },
    {
      "data": {"values": [{}]},
      "mark": {
        "type": "text",
        "text": "UN Trade and Development (UNCTAD) based on World Bank Data extracted 6 July 2026.",
        "align": "left",
        "baseline": "alphabetic",
        "font": "Liberation Sans, Arial, sans-serif",
        "fontSize": 23.2,
        "color": "#000000"
      },
      "encoding": {
        "x": {"datum": 1995.42, "type": "quantitative", "scale": {"domain": [1994.26, 2027], "nice": false, "zero": false}},
        "y": {"datum": -66, "type": "quantitative", "scale": {"domain": [0, 400], "nice": false}}
      }
    },
    {
      "data": {"values": [{}]},
      "mark": {"type": "rect", "color": "#009edb"},
      "encoding": {
        "x": {"datum": 1991.47, "type": "quantitative", "scale": {"domain": [1994.26, 2027], "nice": false, "zero": false}},
        "x2": {"datum": 2028.31},
        "y": {"datum": -98.67, "type": "quantitative", "scale": {"domain": [0, 400], "nice": false}},
        "y2": {"datum": -106.67}
      }
    }
  ]
}
